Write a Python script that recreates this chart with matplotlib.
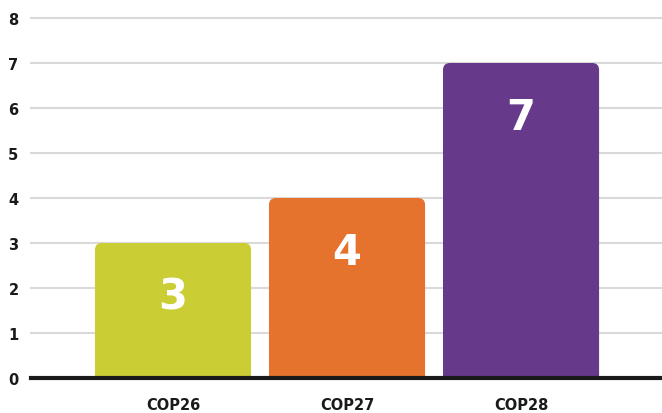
import matplotlib
matplotlib.use("Agg")
import matplotlib.pyplot as plt
from matplotlib.patches import FancyBboxPatch

categories = ["COP26", "COP27", "COP28"]
values = [3, 4, 7]
colors = ["#CACD33", "#E5732D", "#66398B"]

fig = plt.figure(figsize=(6.62, 4.14), dpi=100)
ax = fig.add_axes([31 / 662, 35 / 414, 631 / 662, 360 / 414])

bars = ax.bar(range(len(values)), values, width=0.897, color=colors)
# swap plain bars for ones with rounded top corners
for b, c in zip(bars, colors):
    b.set_visible(False)
    x, w, h = b.get_x(), b.get_width(), b.get_height()
    p = FancyBboxPatch((x, -0.5), w, h + 0.5,
                       boxstyle="round,pad=0,rounding_size=0.04",
                       mutation_aspect=174 / 45, fc=c, ec="none", zorder=2)
    ax.add_patch(p)
    ax.text(b.get_x() + w / 2, h - 1.2, str(h), color="white", fontsize=30,
            fontweight="black", ha="center", va="center", zorder=3)

ax.set_xlim(-0.816, 2.81)
ax.set_ylim(0, 8)
ax.set_yticks(range(0, 9))
ax.set_xticks(range(len(categories)))
ax.set_xticklabels(categories)
ax.yaxis.grid(True, color="#d9d9d9", linewidth=1.5, clip_on=False)
ax.set_axisbelow(True)
for s in ["top", "right", "left"]:
    ax.spines[s].set_visible(False)
ax.spines["bottom"].set_color("#1a1a1a")
ax.spines["bottom"].set_linewidth(3)
ax.spines["bottom"].set_zorder(4)
ax.tick_params(axis="both", length=0, labelsize=10.5, colors="#1a1a1a")
ax.tick_params(axis="y", pad=9)
ax.tick_params(axis="x", pad=14)
for lab in ax.get_xticklabels() + ax.get_yticklabels():
    lab.set_fontweight("bold")

fig.savefig("out.png", dpi=100)
